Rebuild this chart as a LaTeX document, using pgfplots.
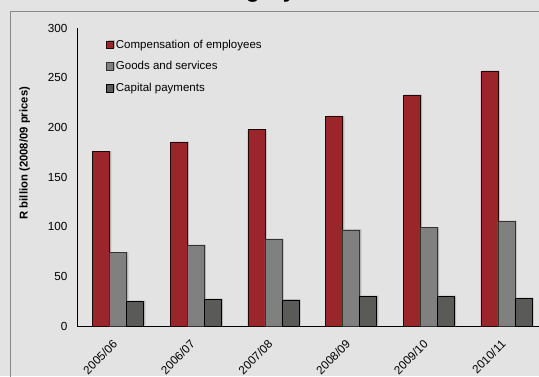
\documentclass[border=0pt]{standalone}
\usepackage{pgfplots}
\pgfplotsset{compat=1.18}
\usepackage{fontspec}
\setmainfont{Liberation Sans}
\definecolor{bg}{HTML}{E3E3E3}
\definecolor{frame}{HTML}{8A8A8A}
\definecolor{cRed}{HTML}{9A262C}
\definecolor{cGrey}{HTML}{808080}
\definecolor{cDark}{HTML}{5A5A58}
\definecolor{shadow}{HTML}{B4B4B4}
\pgfplotstableread{
x comp goods capital
0 175.5 73.8 24.9
1 185.0 81.3 26.9
2 197.7 87.3 26.2
3 211.0 96.7 29.9
4 232.3 99.0 29.9
5 256.5 105.4 27.9
}\datatable
\begin{document}
\begin{tikzpicture}[x=1pt,y=1pt]
\path[use as bounding box] (0,0) rectangle (539,376);
\clip (0,0) rectangle (539,376);
\fill[bg] (0,0) rectangle (539,376);
\draw[frame, line width=1pt] (10,-20) -- (10,364.3) -- (600,364.3);
\node[anchor=base east, inner sep=0pt, font=\bfseries\fontsize{23}{23}\selectfont] at (296,378) {Economic category};
\begin{axis}[
  at={(77pt,50pt)}, anchor=south west,
  width=462pt, height=298pt, scale only axis,
  xmin=-0.528, xmax=5.42, ymin=0, ymax=300,
  axis x line*=bottom, axis y line*=left,
  axis line style={black, line width=0.9pt, -},
  major tick length=0pt,
  ytick={0,50,...,300},
  xtick={0,...,5},
  xticklabels={2005/06,2006/07,2007/08,2008/09,2009/10,2010/11},
  font=\fontsize{11.7}{13}\selectfont,
  /pgf/number format/assume math mode=true,
  yticklabel style={xshift=-6pt},
  xticklabel style={rotate=45, anchor=north east, yshift=-1.5pt, xshift=-10pt},
  ylabel={\bfseries R billion (2008/09 prices)},
  ylabel style={at={(axis description cs:-0.113,0.58)}, anchor=center, font=\fontsize{11.3}{13}\selectfont},
  ybar=0pt, bar width=17pt,
  legend style={draw=none, fill=none, at={(rel axis cs:0.062,0.968)}, anchor=north west,
    font=\fontsize{11.5}{13}\selectfont, row sep=8pt, inner sep=0pt,
    nodes={inner xsep=2pt},
    /tikz/every even column/.append style={column sep=0pt}},
  legend cell align=left,
  legend image code/.code={\draw[#1, line width=0.6pt] (0pt,-3.7pt) rectangle (7.5pt,3.7pt);},
  shadowed/.style={preaction={fill=shadow, draw=none, transform canvas={xshift=1.8pt, yshift=0.6pt}}},
]
\addplot[fill=cRed, draw=black!80!cRed, line width=0.6pt, shadowed] table[x=x,y=comp] {\datatable};
\addplot[fill=cGrey, draw=black!80, line width=0.6pt, shadowed] table[x=x,y=goods] {\datatable};
\addplot[fill=cDark, draw=black, line width=0.6pt, shadowed] table[x=x,y=capital] {\datatable};
\legend{Compensation of employees, Goods and services, Capital payments}
\end{axis}
\end{tikzpicture}
\end{document}
